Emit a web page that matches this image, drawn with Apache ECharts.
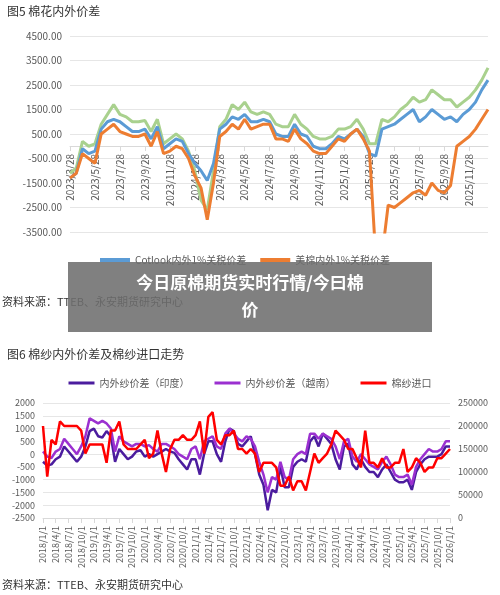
<!DOCTYPE html>
<html><head><meta charset="utf-8">
<script src="https://cdn.jsdelivr.net/npm/echarts@6/dist/echarts.min.js"></script>
<style>html,body{margin:0;padding:0;background:#fff}#main{width:500px;height:595px}</style>
</head><body><div id="main"></div>
<script>
var chartDom = document.getElementById('main');
var myChart = echarts.init(chartDom);

// Top chart: half-month points from 2023/3/28
const topDates = [];
(function () {
  let y = 2023, m = 3;
  while (topDates.length < 68) {
    topDates.push(y + '/' + m + '/28');
    let nm = m + 1, ny = y;
    if (nm > 12) { nm = 1; ny++; }
    topDates.push(ny + '/' + nm + '/13');
    y = ny; m = nm;
  }
})();
const greenSpread = [-1100,-900,200,0,100,900,1300,1700,1300,1200,1000,1000,1050,600,1100,100,300,500,300,-200,
  -1000,-2200,-2600,-1000,800,1100,1700,1500,1800,1400,1300,1400,1300,900,800,800,1300,900,700,400,
  300,300,400,700,700,800,1100,700,100,100,1100,1000,1200,1500,1700,2000,1800,1900,2300,2100,
  1900,1900,1600,1800,2000,2300,2700,3200];
const cotlookSpread = [-1300,-1100,-100,-300,-200,700,1000,1100,1000,800,600,600,700,300,800,-100,100,300,200,-300,
  -700,-1000,-1400,-700,700,900,1200,1100,1300,1000,1000,1100,1000,500,400,400,900,500,400,0,
  -100,-100,100,400,300,500,700,400,-300,-400,700,800,900,1100,1300,1500,1000,1200,1500,1300,
  1100,1200,1000,1300,1500,1800,2300,2700];
const usSpread = [-1300,-1100,-300,-500,-700,500,700,900,600,500,400,400,500,0,600,-300,-200,0,-100,-500,
  -1200,-1700,-3000,-1500,400,600,900,700,1100,700,800,900,900,300,300,200,700,300,100,-200,
  -300,-300,0,300,200,500,700,300,-200,-4500,-4500,-2400,-2500,-2300,-2100,-1900,-1800,-2000,-1500,-1800,
  -1900,-1600,0,200,400,700,1100,1500];

// Bottom chart: monthly from 2018/1 to 2026/1
const bottomDates = [];
for (let y = 2018; y <= 2026; y++) for (let m = 1; m <= 12; m++) if (bottomDates.length < 97) bottomDates.push(y + '/' + m + '/1');
const indiaSpread = [-300,-450,-400,-200,-100,300,100,-100,-300,-100,300,900,
  1000,700,650,900,700,-300,200,0,-200,-100,100,150,
  -100,0,-100,0,100,200,100,50,-200,-400,-600,-200,
  -200,-800,0,500,500,0,-300,500,1000,900,400,300,
  500,700,0,-800,-1200,-2200,-1400,-1500,-500,-1300,-1300,-500,
  -300,-200,-300,500,700,300,800,600,400,-200,-600,300,
  400,-400,-600,-200,-500,-700,-700,-900,-600,-400,-700,-1000,
  -1100,-1100,-1000,-1400,-700,-400,-200,-100,-100,-100,0,300,300];
const vietnamSpread = [100,-100,-150,100,200,600,400,200,0,300,700,1400,
  1300,1200,1300,1200,1000,100,700,500,400,300,400,400,
  300,350,200,100,400,400,300,200,0,-100,-200,200,
  300,-200,500,600,700,300,200,800,1000,800,600,500,
  700,600,300,-300,-800,-1500,-900,-1000,-300,-900,-1000,-200,
  0,100,0,800,800,600,800,700,600,300,-200,500,
  600,-100,-300,0,-200,-400,-500,-600,-300,-100,-400,-800,
  -900,-900,-800,-1200,-500,-200,0,200,100,100,200,500,500];
const yarnImports = [200000,90000,170000,160000,210000,200000,200000,200000,200000,190000,140000,160000,
  160000,160000,160000,120000,190000,190000,210000,160000,150000,150000,150000,160000,
  170000,130000,140000,190000,140000,100000,150000,170000,170000,180000,170000,170000,
  180000,210000,140000,220000,230000,170000,160000,180000,180000,190000,150000,150000,
  140000,150000,140000,100000,120000,120000,120000,110000,70000,70000,90000,60000,
  80000,80000,60000,100000,140000,120000,130000,140000,160000,190000,180000,170000,
  150000,150000,130000,110000,190000,120000,120000,110000,130000,110000,110000,120000,
  120000,150000,100000,110000,130000,120000,100000,110000,110000,130000,130000,140000,150000];

const font = 'Noto Sans CJK SC';
const grey = '#595959';

var option = {
  animation: false,
  textStyle: { fontFamily: font },
  title: [
    { text: '图5 棉花内外价差', left: 2, top: 0, textStyle: { fontSize: 12, fontWeight: 'normal', color: '#333' } },
    { text: '图6 棉纱内外价差及棉纱进口走势', left: 2, top: 343, textStyle: { fontSize: 12, fontWeight: 'normal', color: '#333' } }
  ],
  legend: [
    { left: 95, top: 250, itemWidth: 30, itemHeight: 4, icon: 'rect', itemGap: 14,
      textStyle: { fontSize: 10, color: grey }, data: ['Cotlook内外1%关税价差', '美棉内外1%关税价差'] },
    { left: 'center', top: 373, itemWidth: 26, itemHeight: 3, icon: 'rect', itemGap: 25,
      textStyle: { fontSize: 10, color: grey }, data: ['内外纱价差（印度）', '内外纱价差（越南）', '棉纱进口'] }
  ],
  grid: [
    { left: 70, right: 12, top: 36, height: 196 },
    { left: 43, right: 50, top: 403, height: 115 }
  ],
  xAxis: [
    { type: 'category', gridIndex: 0, data: topDates, boundaryGap: false, offset: -86,
      axisLine: { onZero: false, lineStyle: { color: '#d9d9d9' } }, axisTick: { show: true, interval: 3, lineStyle: { color: '#d9d9d9' } },
      axisLabel: { interval: 3, rotate: 90, fontSize: 10, color: grey } },
    { type: 'category', gridIndex: 1, data: bottomDates, boundaryGap: false,
      axisLine: { onZero: false, lineStyle: { color: '#d9d9d9' } }, axisTick: { show: true, interval: 2, lineStyle: { color: '#d9d9d9' } },
      axisLabel: { interval: 2, rotate: 90, fontSize: 9, color: grey } }
  ],
  yAxis: [
    { type: 'value', gridIndex: 0, min: -3500, max: 4500, interval: 1000,
      axisLabel: { formatter: v => v.toFixed(2), fontSize: 10, color: grey },
      splitLine: { lineStyle: { color: '#e6e6e6' } } },
    { type: 'value', gridIndex: 1, min: -2500, max: 2000, interval: 500,
      axisLabel: { formatter: v => String(v), fontSize: 9, color: grey }, splitLine: { lineStyle: { color: '#e6e6e6' } } },
    { type: 'value', gridIndex: 1, min: 0, max: 250000, interval: 50000, position: 'right',
      axisLabel: { formatter: v => String(v), fontSize: 9, color: grey }, splitLine: { show: false } }
  ],
  series: [
    { name: '滑准税价差', type: 'line', xAxisIndex: 0, yAxisIndex: 0, data: greenSpread, symbol: 'none',
      lineStyle: { color: '#A9D18E', width: 3 }, itemStyle: { color: '#A9D18E' } },
    { name: 'Cotlook内外1%关税价差', type: 'line', xAxisIndex: 0, yAxisIndex: 0, data: cotlookSpread, symbol: 'none',
      lineStyle: { color: '#5B9BD5', width: 3 }, itemStyle: { color: '#5B9BD5' } },
    { name: '美棉内外1%关税价差', type: 'line', xAxisIndex: 0, yAxisIndex: 0, data: usSpread, symbol: 'none',
      lineStyle: { color: '#ED7D31', width: 3 }, itemStyle: { color: '#ED7D31' } },
    { name: '内外纱价差（印度）', type: 'line', xAxisIndex: 1, yAxisIndex: 1, data: indiaSpread, symbol: 'none',
      lineStyle: { color: '#4B1C9E', width: 2.5 }, itemStyle: { color: '#4B1C9E' } },
    { name: '内外纱价差（越南）', type: 'line', xAxisIndex: 1, yAxisIndex: 1, data: vietnamSpread, symbol: 'none',
      lineStyle: { color: '#9B30D0', width: 2.5 }, itemStyle: { color: '#9B30D0' } },
    { name: '棉纱进口', type: 'line', xAxisIndex: 1, yAxisIndex: 2, data: yarnImports, symbol: 'none',
      lineStyle: { color: '#FF0000', width: 2.5 }, itemStyle: { color: '#FF0000' } }
  ],
  graphic: [
    { type: 'text', left: 2, top: 296, style: { text: '资料来源：TTEB、永安期货研究中心', font: '11px "Noto Sans CJK SC"', fill: '#333' } },
    { type: 'text', left: 2, top: 579, style: { text: '资料来源：TTEB、永安期货研究中心', font: '11px "Noto Sans CJK SC"', fill: '#333' } },
    { type: 'rect', shape: { x: 68, y: 262, width: 364, height: 70 }, style: { fill: 'rgba(110,110,110,0.88)' }, z: 100 },
    { type: 'text', x: 250, y: 283, z: 101, style: { text: '今日原棉期货实时行情/今曰棉', align: 'center', verticalAlign: 'middle',
      font: 'bold 17px "Noto Sans CJK SC"', fill: '#fff' } },
    { type: 'text', x: 250, y: 310, z: 101, style: { text: '价', align: 'center', verticalAlign: 'middle',
      font: 'bold 17px "Noto Sans CJK SC"', fill: '#fff' } }
  ]
};
option && myChart.setOption(option);
</script></body></html>
